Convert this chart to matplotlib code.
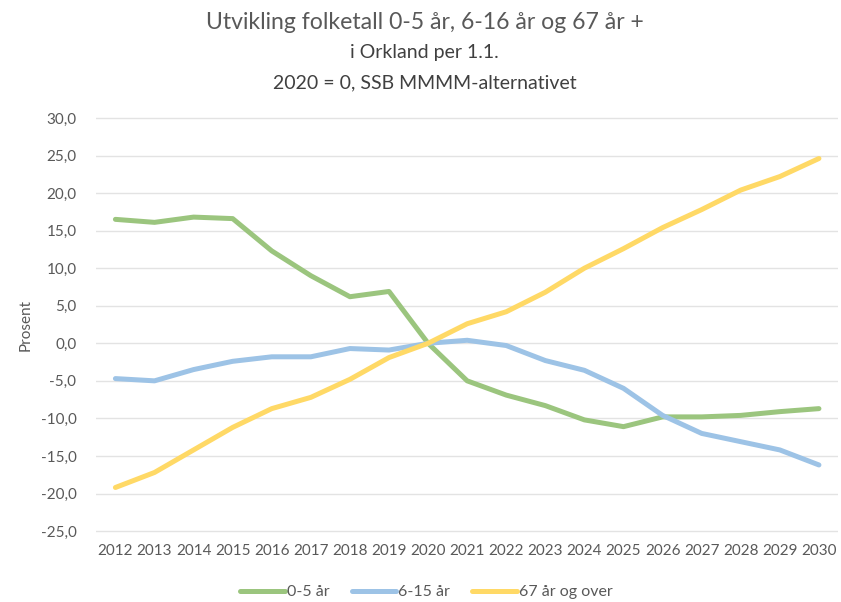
import matplotlib.pyplot as plt
import numpy as np

plt.rcParams['font.family'] = ['Lato', 'DejaVu Sans']

years = list(range(2012, 2031))
barn_0_5 = [16.5, 16.1, 16.8, 16.6, 12.3, 9.0, 6.2, 6.9, 0.0, -5.0, -6.9, -8.3, -10.2,
            -11.1, -9.8, -9.8, -9.6, -9.1, -8.7]
barn_6_15 = [-4.7, -5.0, -3.5, -2.4, -1.8, -1.8, -0.7, -0.9, 0.0, 0.4, -0.3, -2.3, -3.6,
             -6.0, -9.6, -12.0, -13.1, -14.2, -16.2]
eldre_67 = [-19.2, -17.2, -14.2, -11.2, -8.7, -7.2, -4.8, -1.9, 0.0, 2.6, 4.2, 6.8, 10.0,
            12.6, 15.4, 17.8, 20.4, 22.2, 24.6]
y_ticks = [30, 25, 20, 15, 10, 5, 0, -5, -10, -15, -20, -25]

grey = '#595959'

fig = plt.figure(figsize=(8.41, 6.02), dpi=100)
ax = fig.add_axes([0.114, 0.1141, 0.883, 0.6937])

ax.plot(years, barn_0_5, color='#9BC57E', lw=3.6, label='0-5 år', solid_capstyle='round')
ax.plot(years, barn_6_15, color='#9DC3E6', lw=3.6, label='6-15 år', solid_capstyle='round')
ax.plot(years, eldre_67, color='#FFD966', lw=3.6, label='67 år og over', solid_capstyle='round')

ax.set_xlim(2011.5, 2030.5)
ax.set_ylim(-25.3, 30.3)
ax.set_xticks(years)
ax.set_xticklabels([str(y) for y in years])
ax.set_yticks(y_ticks)
ax.set_yticklabels([f'{v:.1f}'.replace('.', ',') for v in y_ticks])
ax.grid(axis='y', color='#E3E3E3', lw=1)
ax.set_axisbelow(True)
for s in ax.spines.values():
    s.set_visible(False)
ax.tick_params(length=0, colors=grey, labelsize=11)
ax.tick_params(axis='y', pad=14)
ax.tick_params(axis='x', pad=8)
ax.set_ylabel('Prosent', color=grey, fontsize=11, labelpad=6)

fig.text(0.505, 0.962, 'Utvikling folketall 0-5 år, 6-16 år og 67 år +', ha='center', va='center',
         fontsize=16.6, color=grey)
fig.text(0.505, 0.912, 'i Orkland per 1.1.', ha='center', va='center', fontsize=14, color='#404040')
fig.text(0.505, 0.862, '2020 = 0, SSB MMMM-alternativet', ha='center', va='center', fontsize=14,
         color='#404040')

ax.legend(loc='upper center', bbox_to_anchor=(0.445, -0.09), ncol=3, frameon=False,
          fontsize=11.5, labelcolor=grey, handlelength=2.8, handletextpad=0.1, columnspacing=1.4)

fig.savefig('out.png', dpi=100)
